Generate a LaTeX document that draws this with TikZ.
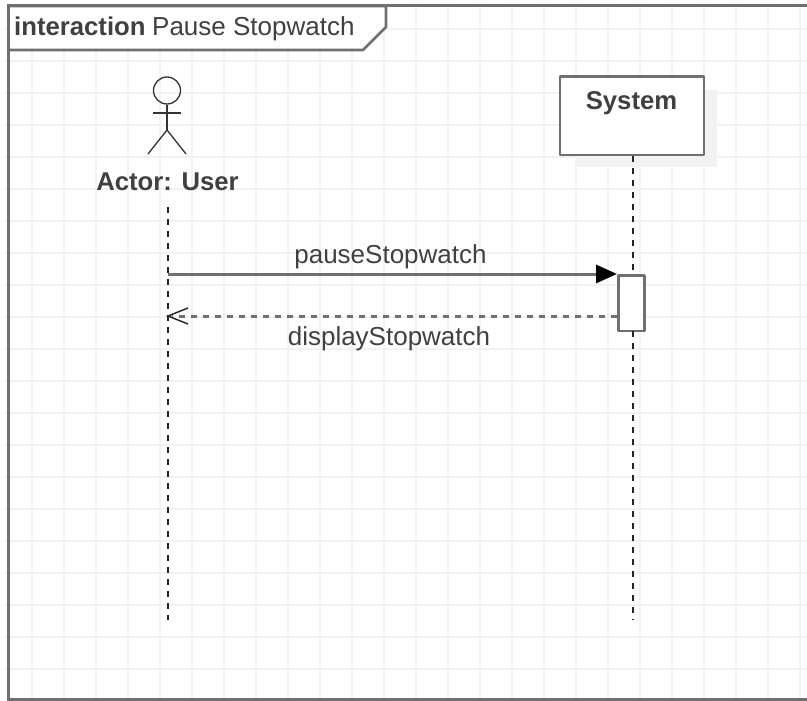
\documentclass[tikz,border=0pt]{standalone}
\usepackage{fontspec}
\setmainfont{Liberation Sans}
\usetikzlibrary{arrows.meta}
\definecolor{gridc}{HTML}{F2F2F2}
\definecolor{framec}{HTML}{707070}
\definecolor{textc}{HTML}{404040}
\tikzset{
  lifeline/.style={black!85,line width=1.7pt,dash pattern=on 6pt off 6pt},
  boxline/.style={draw=framec,line width=2.8pt,line join=round},
  msg/.style={font=\fontsize{26}{29}\selectfont,text=textc,inner sep=0pt},
  heading/.style={font=\fontsize{25.7}{29}\selectfont\bfseries,text=textc,inner sep=0pt},
  stick/.style={draw=black!80,line width=1.3pt},
}
\begin{document}
\begin{tikzpicture}[x=1pt,y=-1pt]
\useasboundingbox (0,0) rectangle (807,701);
\fill[white] (0,0) rectangle (807,701);
% grid
\foreach \gx in {0,...,24} \draw[gridc,line width=1.7pt] ({32+32*\gx},4) -- ({32+32*\gx},698);
\foreach \gy in {0,...,20} \draw[gridc,line width=1.7pt] (4,{29+32*\gy}) -- (807,{29+32*\gy});
% frame
\draw[framec,line width=3pt] (807,6) -- (8.5,6) -- (8.5,699) -- (807,699);
\fill[white] (8.5,6) -- (386,6) -- (386,27) -- (363,50) -- (8.5,50) -- cycle;
\draw[boxline] (8.5,6) -- (386,6) -- (386,27) -- (363,50) -- (8.5,50) -- cycle;
\node[heading,anchor=base west] (kw) at (14,36) {interaction};
\node[msg,anchor=base west] (title) at (152,36) {Pause Stopwatch};
% actor
\node[circle,draw=black!80,line width=1.3pt,minimum size=27pt,inner sep=0pt] (head) at (167,90.5) {};
\coordinate (hip) at (167,130);
\coordinate (lhand) at (153,113);
\coordinate (rhand) at (181,113);
\coordinate (lfoot) at (148,154);
\coordinate (rfoot) at (186,154);
\draw[stick] (head.south) -- (hip);
\draw[stick] (lhand) -- (rhand);
\draw[stick] (lfoot) -- (hip) -- (rfoot);
\node[heading,anchor=base] (user) at (167.5,190) {Actor: User};
% system
\fill[gridc] (575,90) rectangle (717,167);
\node[boxline,fill=white,minimum width=144pt,minimum height=78pt,inner sep=0pt,anchor=north west] (sys) at (558.5,75.5) {};
\node[heading,anchor=base] (systxt) at (631.5,110) {System};
% activation
\node[boxline,fill=white,minimum width=26pt,minimum height=55.5pt,inner sep=0pt,anchor=north west] (act) at (617,274) {};
% lifelines
\coordinate (userTop) at (168,207);
\coordinate (userEnd) at (168,620);
\coordinate (sysEnd) at (633,620);
\coordinate (sysAct) at (633,274);
\coordinate (sysBelow) at (633,331);
\coordinate (sysTop) at (633,156);
\coordinate (userA) at (168,274);
\coordinate (userB) at (168,316);
\coordinate (actB) at (617,316);
\coordinate (actA) at (617,274);
\draw[lifeline] (userTop) -- (userEnd);
\draw[lifeline] (sysTop) -- (sysAct);
\draw[lifeline] (sysBelow) -- (sysEnd);
% messages
\draw[framec,line width=3pt,-{Triangle[black,length=21pt,width=18pt]}] (userA) -- (actA);
\draw[framec,line width=3pt,dash pattern=on 6pt off 6pt] (actB) -- (172,316);
\draw[black!85,line width=1.4pt] (188,308) -- (userB) -- (188,324);
\node[msg,anchor=base] (m1) at (390.5,263) {pauseStopwatch};
\node[msg,anchor=base] (m2) at (389,345) {displayStopwatch};
\end{tikzpicture}
\end{document}
